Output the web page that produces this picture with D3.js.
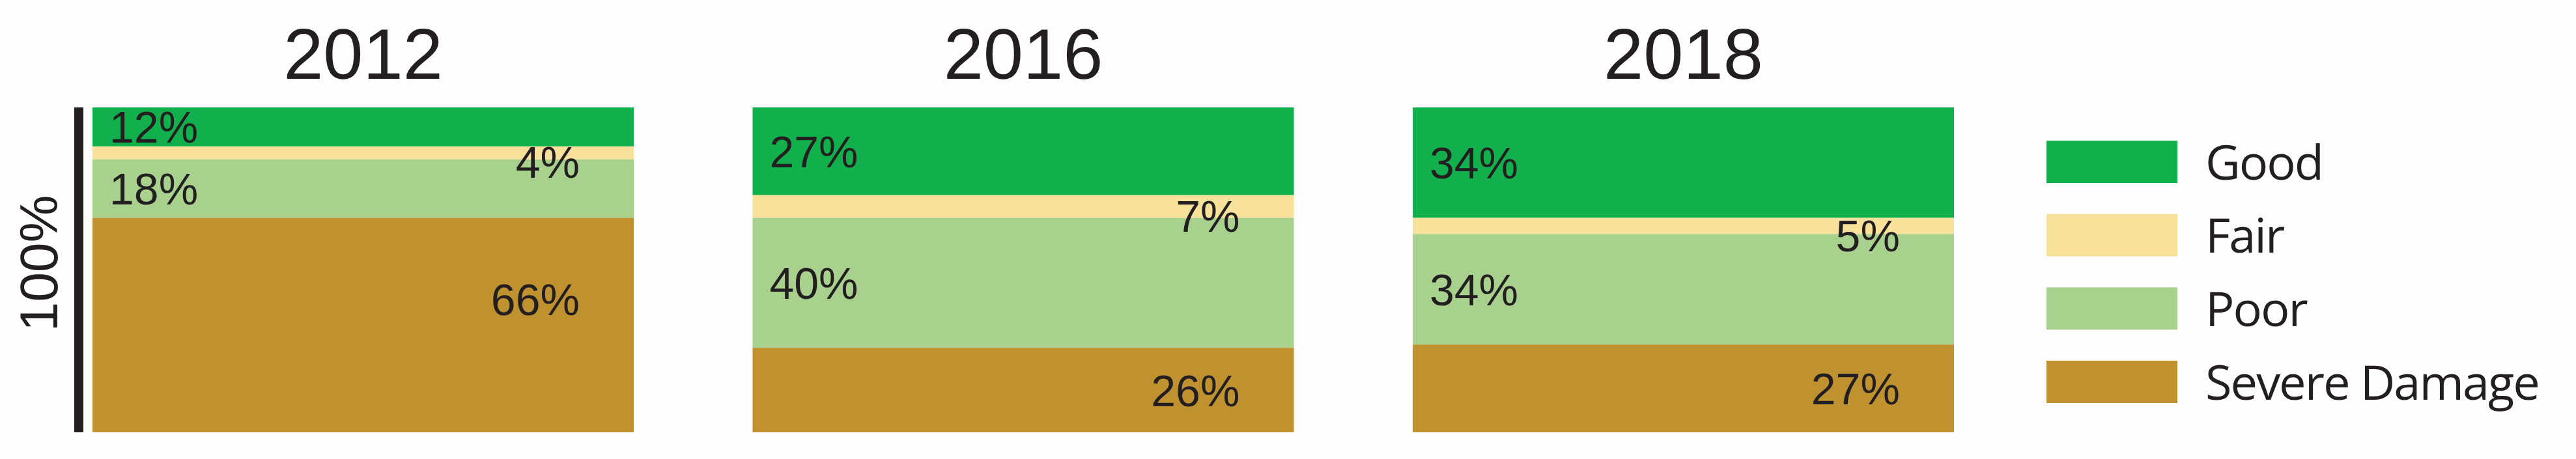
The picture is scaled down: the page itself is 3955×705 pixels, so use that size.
<!DOCTYPE html>
<html>
<head>
<meta charset="utf-8">
<script src="https://cdn.jsdelivr.net/npm/d3@7"></script>
<style>
  body { margin: 0; background: #fdfdfd; }
  text { font-family: "Liberation Sans", Arial, sans-serif; fill: #231f20; }
</style>
</head>
<body>
<svg id="chart" width="3955" height="705"></svg>
<script>
const years = ["2012", "2016", "2018"];
const categories = ["Good", "Fair", "Poor", "Severe Damage"];
const good = [12, 27, 34];
const fair = [4, 7, 5];
const poor = [18, 40, 34];
const severe = [66, 26, 27];
const colors = ["#12b04c", "#f8e19a", "#a9d18e", "#bf912f"];

const series = [good, fair, poor, severe];
const width = 3955, height = 705;
const svg = d3.select("#chart");

// panels laid out with a band scale
const x = d3.scaleBand().domain(years).range([142, 3000]).paddingInner(0.18);
const y = d3.scaleLinear().domain([0, 100]).range([165, 664]);
const color = d3.scaleOrdinal().domain(categories).range(colors);

years.forEach((yr, i) => {
  const g = svg.append("g").attr("transform", `translate(${x(yr)},0)`);
  const w = x.bandwidth();
  const stack = d3.stack().keys(d3.range(categories.length))([series.map(s => s[i])]);

  g.selectAll("rect")
    .data(stack)
    .join("rect")
    .attr("x", 0)
    .attr("width", w)
    .attr("y", d => y(d[0][0]))
    .attr("height", d => y(d[0][1]) - y(d[0][0]))
    .attr("fill", (d, k) => colors[k]);

  g.selectAll("text.val")
    .data(stack)
    .join("text")
    .attr("class", "val")
    .attr("font-size", 68)
    .attr("text-anchor", (d, k) => (k % 2 === 0 ? "start" : "end"))
    .attr("x", (d, k) => (k % 2 === 0 ? 26 : w * 0.9))
    .attr("y", (d, k) => {
      const mid = (y(d[0][0]) + y(d[0][1])) / 2;
      return k === 1 ? mid + 14 : (k === 3 && i === 0 ? mid - 40 : mid);
    })
    .attr("dy", "0.36em")
    .text(d => (d[0][1] - d[0][0]) + "%");

  g.append("text")
    .attr("x", w / 2)
    .attr("y", 121)
    .attr("text-anchor", "middle")
    .attr("font-size", 110)
    .text(yr);
});

// left bracket line
svg.append("line")
  .attr("x1", 121).attr("x2", 121)
  .attr("y1", y(0)).attr("y2", y(100))
  .attr("stroke", "#231f20").attr("stroke-width", 14);

svg.append("text")
  .attr("transform", `translate(58,${(y(0) + y(100)) / 2 - 10}) rotate(-90)`)
  .attr("text-anchor", "middle")
  .attr("dy", "0.36em")
  .attr("font-size", 82)
  .text("100%");

// legend
const legend = svg.append("g").attr("transform", "translate(3142,216)");
const ly = d3.scalePoint().domain(categories).range([0, 338]);
legend.selectAll("rect")
  .data(categories)
  .join("rect")
  .attr("x", 0)
  .attr("y", d => ly(d))
  .attr("width", 201)
  .attr("height", 65)
  .attr("fill", d => color(d));
legend.selectAll("text")
  .data(categories)
  .join("text")
  .attr("x", 244)
  .attr("y", d => ly(d) + 33)
  .attr("dy", "0.36em")
  .attr("font-size", 74)
  .attr("letter-spacing", -2)
  .style("font-family", "'Open Sans', sans-serif")
  .text(d => d);
</script>
</body>
</html>
